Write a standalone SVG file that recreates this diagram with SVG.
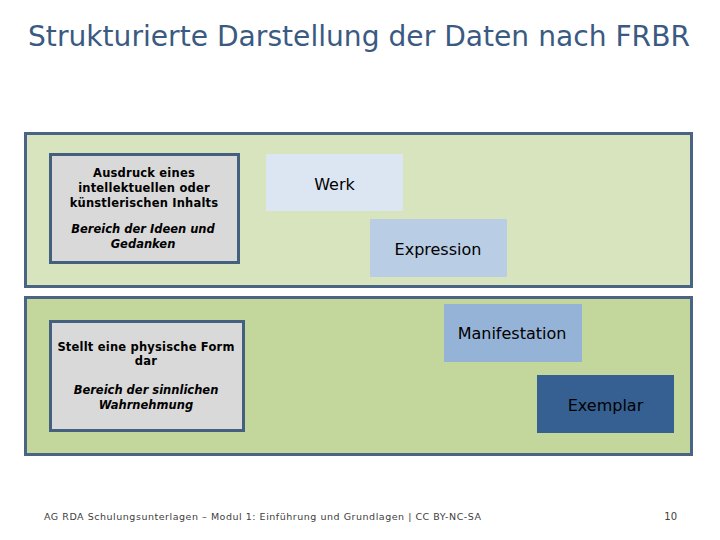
<svg xmlns="http://www.w3.org/2000/svg" width="720" height="540" viewBox="0 0 720 540">
<style>
.panel{stroke:#4a6584;stroke-width:3}
.gbox{fill:#d9d9d9;stroke:#44607e;stroke-width:3}
.t{font-family:"DejaVu Sans",Verdana,sans-serif;fill:#000}
.lbl{font-size:16px;text-anchor:middle}
.desc{font-size:11.5px;text-anchor:middle;font-weight:bold;letter-spacing:0.2px}
.desci{font-size:11.5px;text-anchor:middle;font-style:italic;font-weight:bold}
</style>
<rect width="720" height="540" fill="#ffffff"/>
<text id="title" x="28" y="46" font-family="DejaVu Sans, Verdana, sans-serif" font-size="27.5" fill="#3b5a82" textLength="662" lengthAdjust="spacingAndGlyphs">Strukturierte Darstellung der Daten nach FRBR</text>
<g id="panel-top"><rect class="panel" x="25.5" y="133.5" width="666" height="153" fill="#d7e4bd"/></g>
<g id="panel-bottom"><rect class="panel" x="25.5" y="297.5" width="666" height="157" fill="#c3d69b"/></g>
<g id="desc-top">
<rect class="gbox" x="50.5" y="154.5" width="188" height="108"/>
<text class="t desc" x="144" y="177">Ausdruck eines</text>
<text class="t desc" x="144" y="192">intellektuellen oder</text>
<text class="t desc" x="144" y="207">künstlerischen Inhalts</text>
<text class="t desci" x="143" y="233">Bereich der Ideen und</text>
<text class="t desci" x="143" y="248">Gedanken</text>
</g>
<g id="desc-bottom">
<rect class="gbox" x="50.5" y="321.5" width="193" height="109"/>
<text class="t desc" x="146" y="351">Stellt eine physische Form</text>
<text class="t desc" x="146" y="365">dar</text>
<text class="t desci" x="146" y="394">Bereich der sinnlichen</text>
<text class="t desci" x="146" y="409">Wahrnehmung</text>
</g>
<g id="werk"><rect x="266" y="154" width="137" height="57" fill="#dce6f2"/><text class="t lbl" x="334.5" y="190">Werk</text></g>
<g id="expression"><rect x="370" y="219" width="137" height="58" fill="#b9cde5"/><text class="t lbl" x="438" y="255">Expression</text></g>
<g id="manifestation"><rect x="444" y="304" width="138" height="58" fill="#95b3d7"/><text class="t lbl" x="512" y="339">Manifestation</text></g>
<g id="exemplar"><rect x="537" y="375" width="137" height="58" fill="#366092"/><text class="t lbl" x="605.5" y="411">Exemplar</text></g>
<g id="connectors"></g>
<text id="footer" x="44" y="520" font-family="DejaVu Sans, Verdana, sans-serif" font-size="9.5" fill="#404040" textLength="437">AG RDA Schulungsunterlagen – Modul 1: Einführung und Grundlagen |  CC BY-NC-SA</text>
<text id="page" x="677" y="520" font-family="DejaVu Sans, Verdana, sans-serif" font-size="10" fill="#404040" text-anchor="end">10</text>
</svg>
